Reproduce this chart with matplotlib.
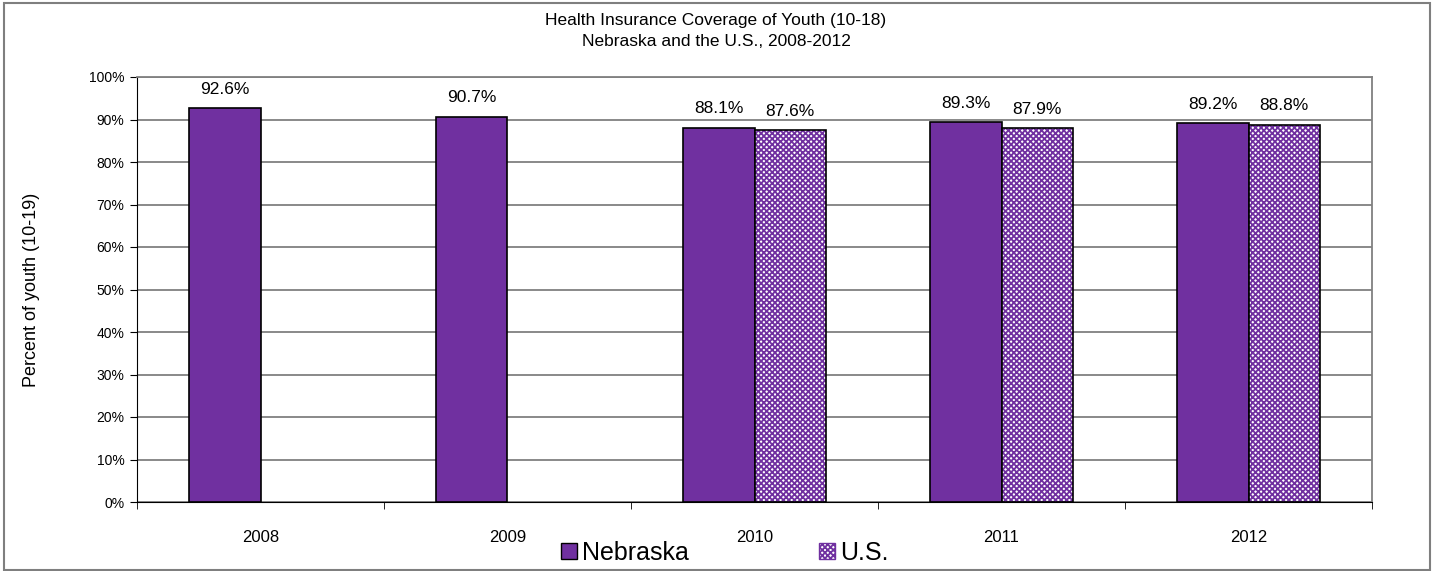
import matplotlib
matplotlib.use("Agg")
import matplotlib.pyplot as plt
from matplotlib.patches import Rectangle, Patch
import numpy as np

plt.rcParams['font.family'] = ['Liberation Sans', 'DejaVu Sans']

years = ['2008', '2009', '2010', '2011', '2012']
nebraska = [92.6, 90.7, 88.1, 89.3, 89.2]
us = [None, None, 87.6, 87.9, 88.8]
yticks = list(range(0, 101, 10))

purple = '#7030A0'

fig = plt.figure(figsize=(14.32, 5.71), dpi=100)
ax = fig.add_axes([137/1432, 1-502/571, (1372-137)/1432, (502-77)/571])

x = np.arange(len(years))
w = 0.2875

ax.bar(x - w/2, nebraska, w, color=purple, edgecolor='black', linewidth=1.2, zorder=3)
us_x = [x[i] + w/2 for i, v in enumerate(us) if v is not None]
us_v = [v for v in us if v is not None]
plt.rcParams['hatch.linewidth'] = 1.3
ax.bar(us_x, us_v, w, color='white', edgecolor=purple, hatch='xxxxxx', linewidth=0, zorder=3)
ax.bar(us_x, us_v, w, fill=False, edgecolor='black', linewidth=1.2, zorder=4)

for i, v in enumerate(nebraska):
    ax.annotate(f'{v:.1f}%', (x[i] - w/2, v), xytext=(0, 8), textcoords='offset points',
                ha='center', va='bottom', fontsize=12.5)
for xi, v in zip(us_x, us_v):
    ax.annotate(f'{v:.1f}%', (xi, v), xytext=(0, 8), textcoords='offset points',
                ha='center', va='bottom', fontsize=12.5)

ax.set_xlim(-0.5, len(years) - 0.5)
ax.set_ylim(0, 100)
ax.set_yticks(yticks)
ax.set_yticklabels([f'{t}%' for t in yticks], fontsize=10)
ax.yaxis.grid(True, color='#808080', linewidth=1.3, zorder=0)
ax.set_axisbelow(True)

ax.set_xticks(x)
ax.set_xticklabels(years, fontsize=12)
ax.tick_params(axis='x', which='major', length=0, pad=20)
ax.set_xticks(np.arange(-0.5, len(years) + 0.5, 1), minor=True)
ax.tick_params(axis='x', which='minor', length=5, direction='out', color='black')
ax.tick_params(axis='y', length=5, direction='out', color='black', pad=4)

for s in ['top', 'right']:
    ax.spines[s].set_color('#808080')
    ax.spines[s].set_linewidth(1.3)
ax.spines['left'].set_color('black')
ax.spines['bottom'].set_color('black')

ax.set_ylabel('Percent of youth (10-19)', fontsize=13, labelpad=35)

fig.text(0.5, 1-20/571, 'Health Insurance Coverage of Youth (10-18)', ha='center', va='center', fontsize=12.5)
fig.text(0.5, 1-42/571, 'Nebraska and the U.S., 2008-2012', ha='center', va='center', fontsize=12.5)

handles = [Patch(facecolor=purple, edgecolor='black', linewidth=1.0),
           Patch(facecolor='white', edgecolor=purple, hatch='xxxxxx', linewidth=1.0)]
leg = fig.legend(handles, ['Nebraska', 'U.S.'], loc='center left', bbox_to_anchor=(561/1432, 1-553/571),
                 ncol=2, frameon=False, fontsize=18, handlelength=0.64, handleheight=0.64,
                 handletextpad=0.2, columnspacing=5.2, borderpad=0, borderaxespad=0)

fig.patches.append(Rectangle((4/1432, 1-570/571), 1426/1432, 567/571, transform=fig.transFigure,
                             fill=False, edgecolor='#7f7f7f', linewidth=1.5))

fig.savefig('out.png', dpi=100)
